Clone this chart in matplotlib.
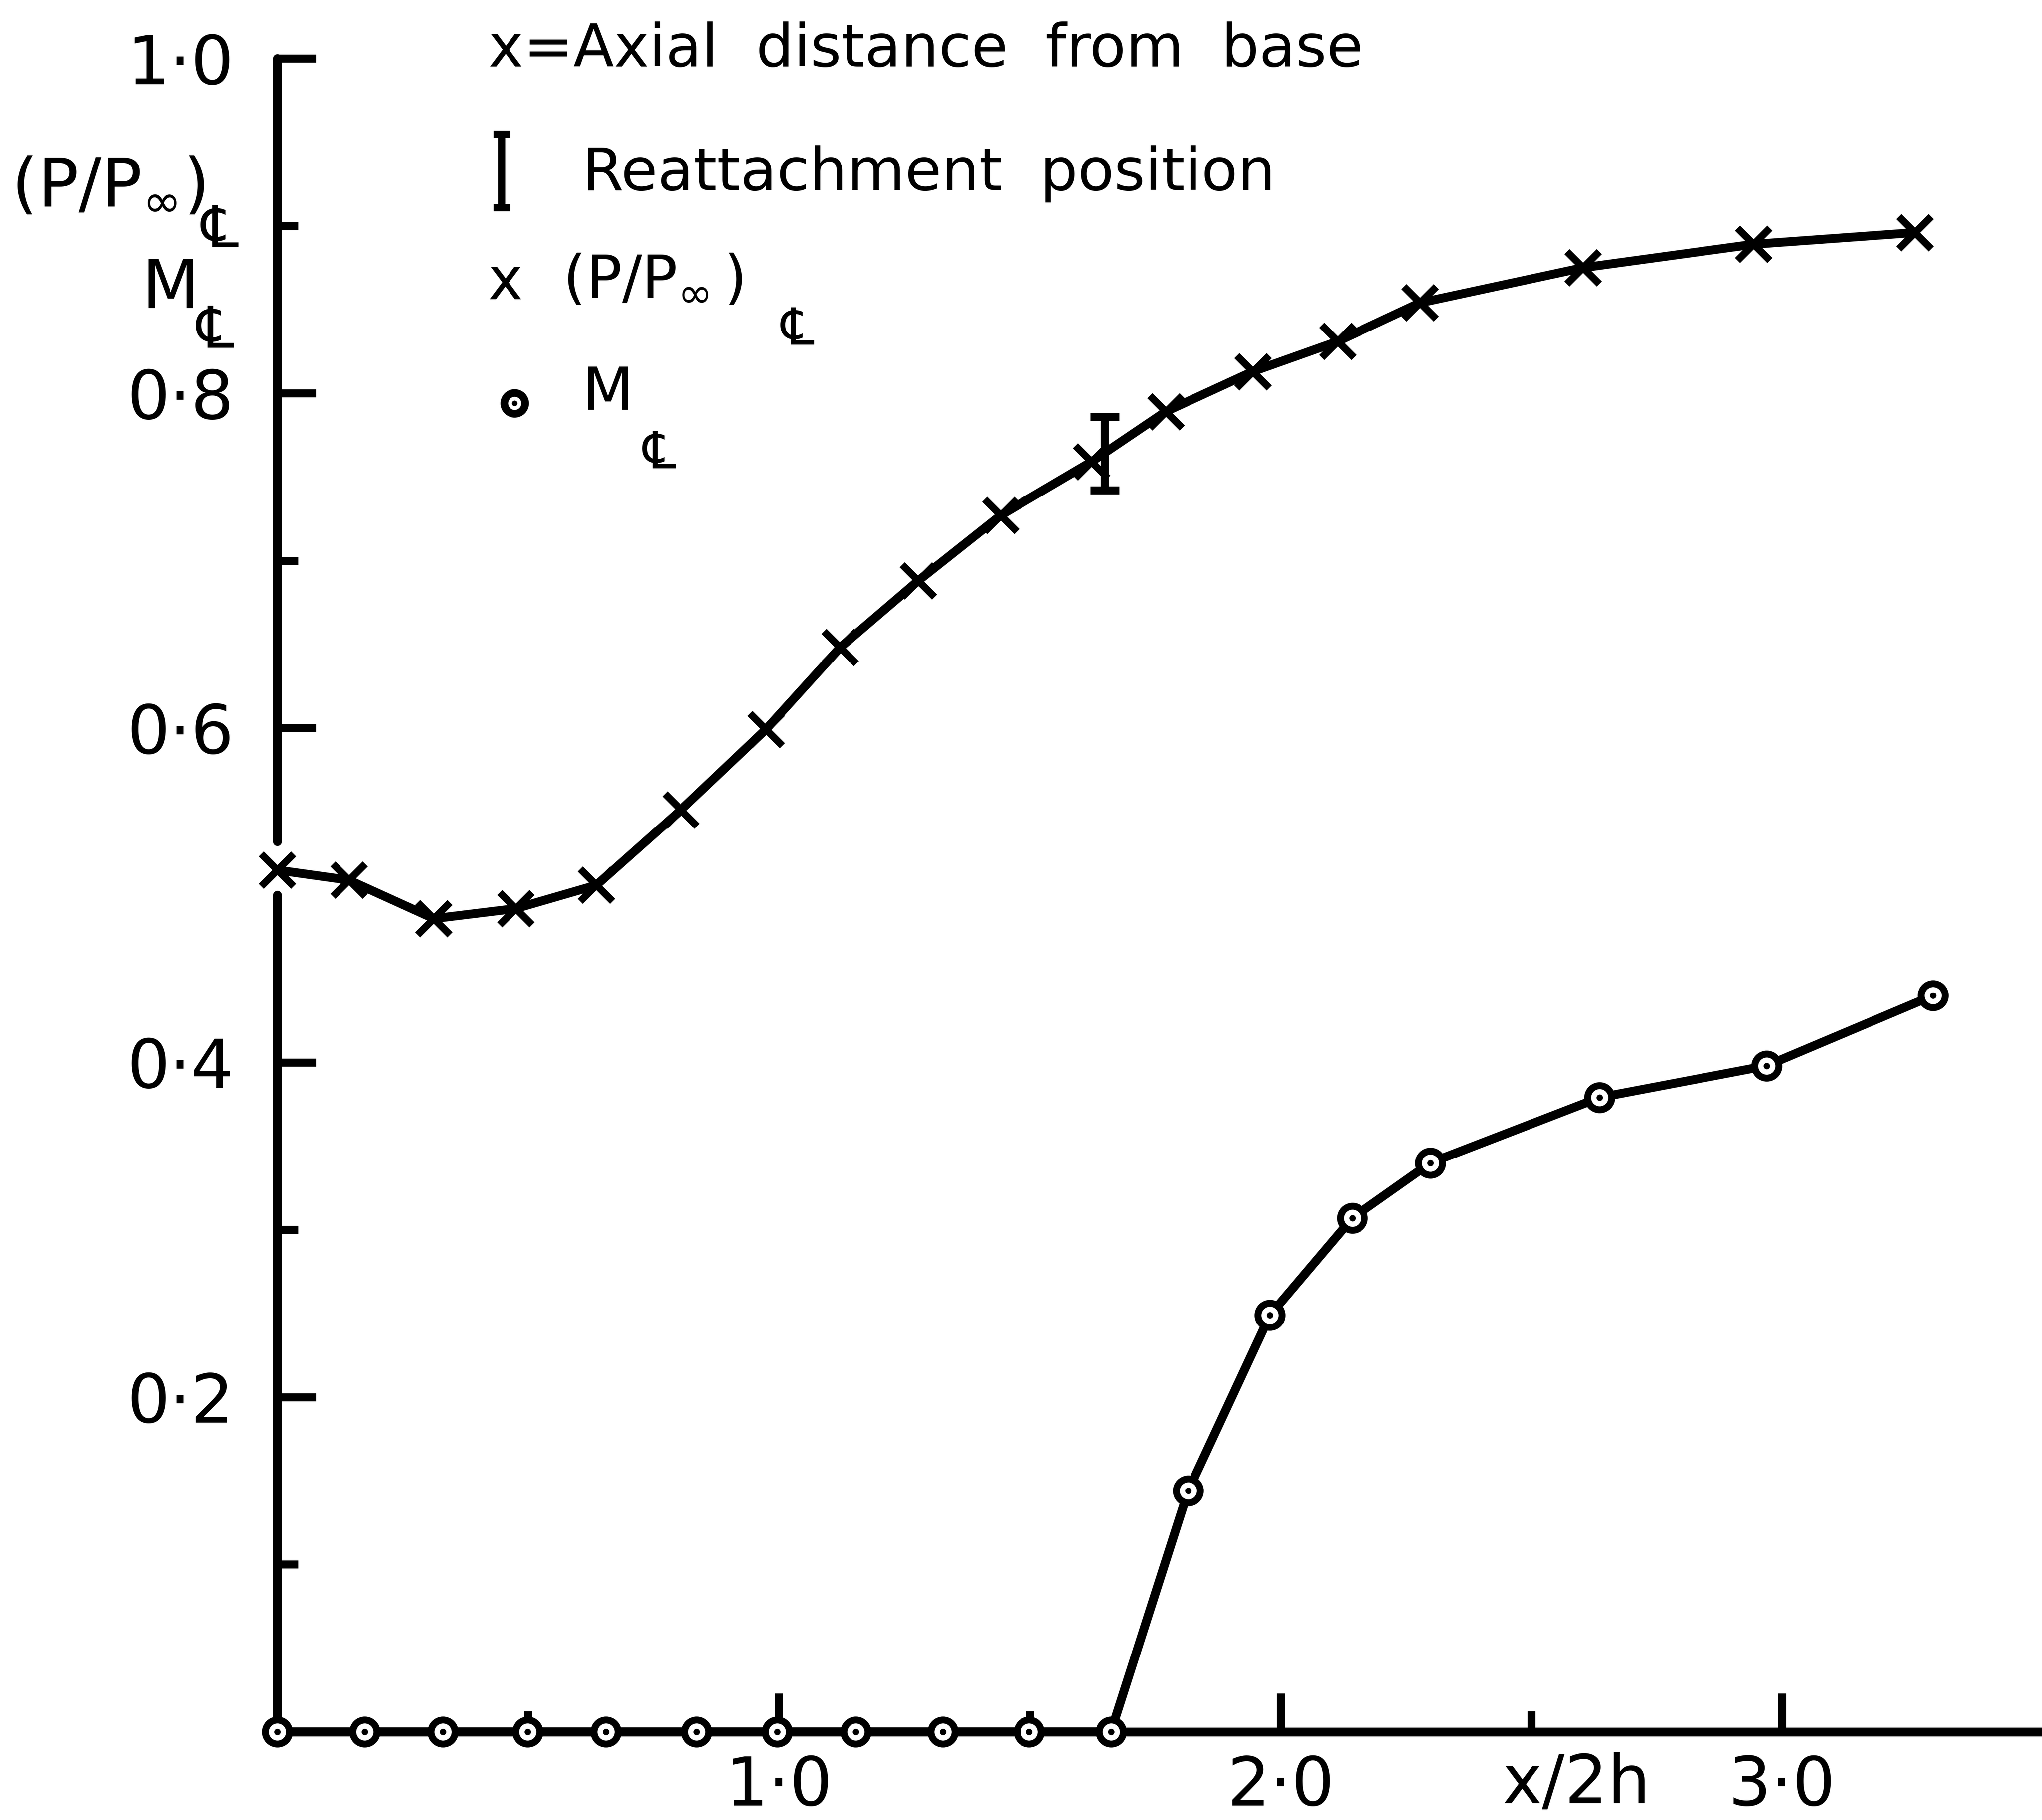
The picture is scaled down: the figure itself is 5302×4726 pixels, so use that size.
import matplotlib
matplotlib.use('Agg')
import matplotlib.pyplot as plt
from matplotlib.ticker import FixedLocator

# ---- data ----
p_x = [0.00, 0.143, 0.312, 0.475, 0.636, 0.805, 0.974, 1.122, 1.278, 1.442,
       1.623, 1.771, 1.945, 2.114, 2.278, 2.603, 2.943, 3.265]
p_y = [0.515, 0.509, 0.486, 0.492, 0.506, 0.551, 0.599, 0.648, 0.688, 0.727,
       0.759, 0.789, 0.813, 0.831, 0.854, 0.875, 0.889, 0.896]
m_x = [0.0, 0.174, 0.330, 0.499, 0.655, 0.836, 0.997, 1.153, 1.327, 1.499,
       1.662, 1.816, 1.979, 2.143, 2.299, 2.636, 2.969, 3.301]
m_y = [0, 0, 0, 0, 0, 0, 0, 0, 0, 0,
       0, 0.144, 0.249, 0.307, 0.340, 0.379, 0.398, 0.440]
reattach_x = 1.649
reattach_lo = 0.742
reattach_hi = 0.786

y_major = [0.2, 0.4, 0.6, 0.8, 1.0]
y_major_labels = ['0·2', '0·4', '0·6', '0·8', '1·0']
y_minor = [0.1, 0.3, 0.7, 0.9]
x_major = [1, 2, 3]
x_major_labels = ['1·0', '2·0', '3·0']
x_minor = [0.5, 1.5, 2.5]

plt.rcParams['font.family'] = ['DejaVu Sans']

W, H, DPI = 5302, 4726, 300
fig = plt.figure(figsize=(W / DPI, H / DPI), dpi=DPI)
ax = fig.add_axes([0.1358, 0.0485, 0.998 - 0.1358, 0.9678 - 0.0485])
ax.set_xlim(0, 3.51)
ax.set_ylim(0, 1.0)

LW = 5.5
for s in ['top', 'right', 'left']:
    ax.spines[s].set_visible(False)
ax.spines['bottom'].set_linewidth(LW)

# hand-drawn left axis with a gap at the first point
ax.plot([0, 0], [0, 0.500], color='black', lw=LW, clip_on=False, solid_capstyle='round')
ax.plot([0, 0], [0.532, 1.0], color='black', lw=LW, clip_on=False, solid_capstyle='round')

ax.yaxis.set_major_locator(FixedLocator(y_major))
ax.yaxis.set_minor_locator(FixedLocator(y_minor))
ax.set_yticklabels(y_major_labels)
ax.xaxis.set_major_locator(FixedLocator(x_major))
ax.xaxis.set_minor_locator(FixedLocator(x_minor))
ax.set_xticklabels(x_major_labels)

ax.tick_params(axis='both', which='major', direction='in', length=24, width=5, labelsize=42)
ax.tick_params(axis='both', which='minor', direction='in', length=13, width=5)
ax.tick_params(axis='y', which='major', pad=27)
ax.tick_params(axis='x', which='major', pad=14)

# pressure ratio curve
ax.plot(p_x, p_y, color='black', lw=LW, zorder=3, clip_on=False)
ax.plot(p_x, p_y, linestyle='none', marker='x', ms=20, mew=4.5, color='black',
        zorder=4, clip_on=False)

# Mach number curve
ax.plot(m_x, m_y, color='black', lw=LW, zorder=3, clip_on=False)
ax.plot(m_x, m_y, linestyle='none', marker='o', ms=15, mew=4.3, mfc='white',
        mec='black', zorder=4, clip_on=False)
ax.plot(m_x, m_y, linestyle='none', marker='o', ms=4, mew=0, color='black',
        zorder=5, clip_on=False)

# reattachment position bar
ax.errorbar([reattach_x], [(reattach_lo + reattach_hi) / 2],
            yerr=[[(reattach_hi - reattach_lo) / 2]], fmt='none',
            ecolor='black', elinewidth=5, capsize=9, capthick=5, zorder=5)


def label_with_cl(x, y, main, size, cl_size, dx, dy):
    t = ax.text(x, y, main, fontsize=size, ha='left', va='center', clip_on=False)
    ax.annotate('℄', xy=(1, 0), xycoords=t, xytext=(dx, dy),
                textcoords='offset points', fontsize=cl_size,
                ha='left', va='center', annotation_clip=False)
    return t


# axis labels
label_with_cl(-0.53, 0.924, r'$\mathregular{(P/P_{\infty})}$', 42, 36, -2, -8)
label_with_cl(-0.27, 0.862, 'M', 42, 36, -2, -6)
ax.text(2.59, -0.012, 'x/2h', fontsize=42, ha='center', va='top', clip_on=False)

# legend block
LF = 37
ax.text(0.421, 1.005, 'x=Axial  distance  from  base', fontsize=LF,
        ha='left', va='center', clip_on=False)
ax.errorbar([0.447], [0.933], yerr=[[0.022]], fmt='none', ecolor='black',
            elinewidth=4.5, capsize=5, capthick=4.5, clip_on=False)
ax.text(0.608, 0.931, 'Reattachment  position', fontsize=LF,
        ha='left', va='center', clip_on=False)
ax.text(0.455, 0.866, 'x', fontsize=LF, ha='center', va='center', clip_on=False)
label_with_cl(0.569, 0.868, r'$\mathregular{(P/P_{\infty}\,)}$', LF, 32, 24, -14)
ax.plot([0.473], [0.794], linestyle='none', marker='o', ms=13, mew=4.8,
        mfc='white', mec='black', clip_on=False)
ax.plot([0.473], [0.794], linestyle='none', marker='o', ms=3.5, mew=0,
        color='black', clip_on=False)
label_with_cl(0.608, 0.800, 'M', LF, 32, 6, -20)

fig.savefig('out.png', dpi=DPI, facecolor='white')
